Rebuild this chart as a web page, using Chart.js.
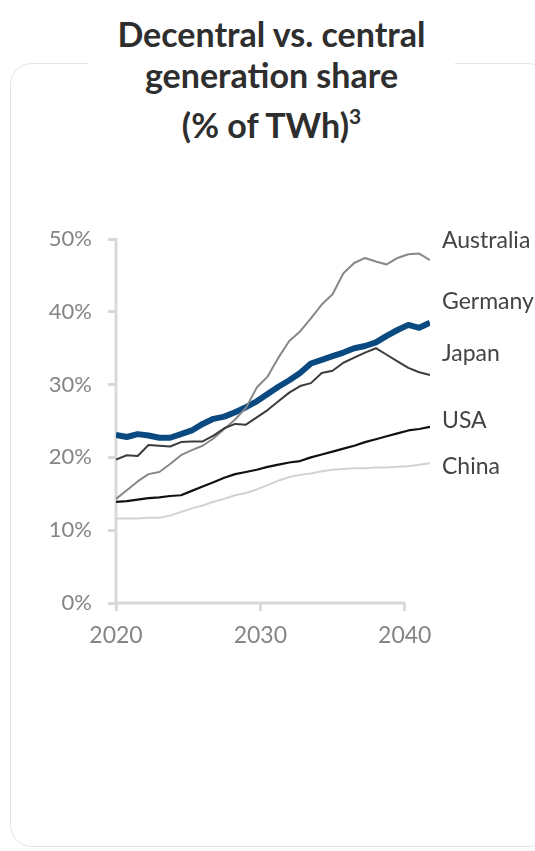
<!DOCTYPE html>
<html>
<head>
<meta charset="utf-8">
<script src="https://cdn.jsdelivr.net/npm/chart.js@4"></script>
<style>
  html, body { margin:0; padding:0; background:#fff; overflow:hidden; }
  #wrap { position:relative; width:535px; height:851px; overflow:hidden; }
  #card { position:absolute; left:10px; top:63px; width:540px; height:784px;
          border:1.5px solid #e4e4e4; border-radius:22px; box-sizing:border-box; }
  #title { position:absolute; left:88px; top:13px; width:367px; background:#fff;
           text-align:center; font-family:Lato, sans-serif; font-weight:700;
           font-size:34px; line-height:41px; color:#2e2e2e; }
  #title .sup { font-size:21px; vertical-align:14px; }
  canvas { position:absolute; left:0; top:0; }
</style>
</head>
<body>
<div id="wrap">
  <div id="card"></div>
  <div id="title">Decentral vs. central<br>generation share<br>(% of TWh)<span class="sup">3</span></div>
  <canvas id="chart" width="535" height="851"></canvas>
</div>
<script>
// x positions (years)
const years = [2020, 2020.75, 2021.5, 2022.25, 2023, 2023.75, 2024.5, 2025.25, 2026, 2026.75,
  2027.5, 2028.25, 2029, 2029.75, 2030.5, 2031.25, 2032, 2032.75, 2033.5, 2034.25,
  2035, 2035.75, 2036.5, 2037.25, 2038, 2038.75, 2039.5, 2040.25, 2041, 2041.75];

// share of decentral generation, % of TWh
const australia = [14.3, 15.5, 16.7, 17.7, 18.0, 19.1, 20.3, 21.0, 21.6, 22.6,
  23.9, 25.2, 26.8, 29.6, 31.1, 33.7, 36.0, 37.3, 39.1, 41.0,
  42.4, 45.3, 46.7, 47.4, 46.9, 46.5, 47.4, 47.9, 48.0, 47.1];
const germany = [23.1, 22.8, 23.2, 23.0, 22.7, 22.7, 23.2, 23.7, 24.6, 25.3,
  25.6, 26.2, 26.9, 27.7, 28.7, 29.7, 30.6, 31.6, 32.9, 33.4,
  33.9, 34.4, 35.0, 35.3, 35.8, 36.7, 37.5, 38.2, 37.8, 38.5];
const japan = [19.7, 20.3, 20.2, 21.7, 21.6, 21.5, 22.1, 22.2, 22.2, 23.0,
  24.0, 24.6, 24.5, 25.5, 26.5, 27.7, 28.9, 29.8, 30.2, 31.6,
  31.9, 33.0, 33.7, 34.4, 35.0, 34.1, 33.2, 32.3, 31.7, 31.3];
const usa = [13.9, 14.0, 14.2, 14.4, 14.5, 14.7, 14.8, 15.4, 16.0, 16.6,
  17.2, 17.7, 18.0, 18.3, 18.7, 19.0, 19.3, 19.5, 20.0, 20.4,
  20.8, 21.2, 21.6, 22.1, 22.5, 22.9, 23.3, 23.7, 23.9, 24.2];
const china = [11.6, 11.6, 11.6, 11.7, 11.7, 12.0, 12.5, 13.0, 13.4, 13.9,
  14.3, 14.8, 15.1, 15.6, 16.2, 16.8, 17.3, 17.6, 17.8, 18.1,
  18.3, 18.4, 18.5, 18.5, 18.6, 18.6, 18.7, 18.8, 19.0, 19.2];

const xTicks = [2020, 2030, 2040];
const seriesNames = ['Australia', 'Germany', 'Japan', 'USA', 'China'];
// label baselines on the right side (layout only)
const labelBaselines = [248, 309, 361, 428, 474];

const AXIS = '#d9d9d9';
const pts = arr => years.map((x, i) => ({ x, y: arr[i] }));

const axisLines = {
  id: 'axisLines',
  beforeDatasetsDraw(chart) {
    const { ctx, scales: { x, y } } = chart;
    ctx.save();
    ctx.strokeStyle = AXIS;
    ctx.lineWidth = 3;
    ctx.beginPath();
    ctx.moveTo(x.getPixelForValue(2020), y.getPixelForValue(50) - 1);
    ctx.lineTo(x.getPixelForValue(2020), y.getPixelForValue(0));
    ctx.lineTo(x.getPixelForValue(2040), y.getPixelForValue(0));
    ctx.stroke();
    ctx.restore();
  }
};

const sideLabels = {
  id: 'sideLabels',
  afterDraw(chart) {
    const ctx = chart.ctx;
    ctx.save();
    ctx.fillStyle = '#444';
    ctx.font = '400 23px Lato';
    ctx.textAlign = 'left';
    ctx.textBaseline = 'alphabetic';
    seriesNames.forEach((n, i) => ctx.fillText(n, 442, labelBaselines[i]));
    ctx.restore();
  }
};

new Chart(document.getElementById('chart'), {
  type: 'line',
  data: {
    datasets: [
      { label: 'China', data: pts(china), borderColor: '#d2d2d2', borderWidth: 2 },
      { label: 'USA', data: pts(usa), borderColor: '#111', borderWidth: 2.2 },
      { label: 'Japan', data: pts(japan), borderColor: '#3c3c3c', borderWidth: 2 },
      { label: 'Australia', data: pts(australia), borderColor: '#888', borderWidth: 2 },
      { label: 'Germany', data: pts(germany), borderColor: '#0b4a80', borderWidth: 6 }
    ]
  },
  options: {
    responsive: false,
    animation: false,
    elements: { point: { radius: 0 }, line: { tension: 0, borderJoinStyle: 'round' } },
    layout: { padding: { left: 0, top: 239, right: 105, bottom: 188 } },
    plugins: { legend: { display: false }, tooltip: { enabled: false } },
    scales: {
      x: {
        type: 'linear', min: 2020, max: 2041.75,
        afterBuildTicks: s => { s.ticks = xTicks.map(v => ({ value: v })); },
        afterFit: s => { s.height = 60; },
        border: { display: false },
        grid: { drawOnChartArea: false, drawTicks: true, tickLength: 8, color: AXIS, lineWidth: 3 },
        ticks: { color: '#858585', font: { family: 'Lato', size: 23, weight: 400 }, padding: 11,
                 maxRotation: 0, autoSkip: false, callback: v => String(v) }
      },
      y: {
        min: 0, max: 50,
        afterFit: s => { s.width = 116; },
        border: { display: false },
        grid: { drawOnChartArea: false, drawTicks: true, tickLength: 8, color: AXIS, lineWidth: 3 },
        ticks: { stepSize: 10, color: '#858585', font: { family: 'Lato', size: 22, weight: 400 }, padding: 16,
                 callback: v => v + '%' }
      }
    }
  },
  plugins: [axisLines, sideLabels]
});
</script>
</body>
</html>
